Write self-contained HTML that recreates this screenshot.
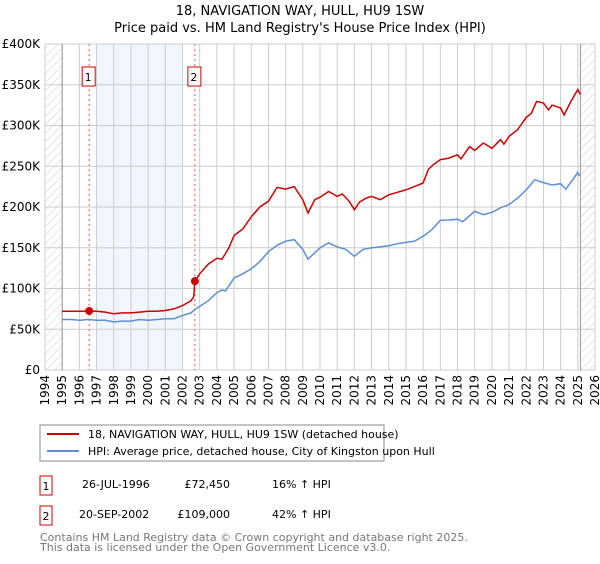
<!DOCTYPE html>
<html><head><meta charset="utf-8">
<style>
body{margin:0;background:#fff;font-family:"DejaVu Sans","Liberation Sans",sans-serif;}
svg text{font-family:"DejaVu Sans","Liberation Sans",sans-serif;}
</style></head>
<body>
<svg id="chart" width="600" height="560" xmlns="http://www.w3.org/2000/svg">
<defs>
<pattern id="hatch" width="6" height="6" patternUnits="userSpaceOnUse" patternTransform="rotate(45)">
<line x1="0" y1="0" x2="0" y2="6" stroke="#ccc" stroke-width="1"/>
</pattern>
</defs>
<text x="300" y="15" text-anchor="middle" font-size="13">18, NAVIGATION WAY, HULL, HU9 1SW</text>
<text x="300" y="32" text-anchor="middle" font-size="13">Price paid vs. HM Land Registry's House Price Index (HPI)</text>
<g id="grid"></g>
<g id="marks"></g>
<g id="axes"></g>

<rect x="40" y="425" width="344" height="36" fill="none" stroke="#888"/>
<line x1="47" y1="434" x2="79" y2="434" stroke="#cc0000" stroke-width="2"/>
<text x="88" y="438" font-size="11">18, NAVIGATION WAY, HULL, HU9 1SW (detached house)</text>
<line x1="47" y1="451" x2="79" y2="451" stroke="#5b8fd4" stroke-width="2"/>
<text x="88" y="455" font-size="11">HPI: Average price, detached house, City of Kingston upon Hull</text>

<g>
<rect x="40" y="476" width="12" height="19" fill="#fff" stroke="#cc0000"/>
<text x="46" y="490" font-size="11" text-anchor="middle">1</text>
<text x="82" y="488" font-size="11">26-JUL-1996</text>
<text x="230" y="488" font-size="11" text-anchor="end">£72,450</text>
<text x="272" y="488" font-size="11">16% ↑ HPI</text>
</g>
<g>
<rect x="40" y="506" width="12" height="19" fill="#fff" stroke="#cc0000"/>
<text x="46" y="520" font-size="11" text-anchor="middle">2</text>
<text x="79" y="518" font-size="11">20-SEP-2002</text>
<text x="230" y="518" font-size="11" text-anchor="end">£109,000</text>
<text x="272" y="518" font-size="11">42% ↑ HPI</text>
</g>
<text x="40" y="541" font-size="11" fill="#777">Contains HM Land Registry data © Crown copyright and database right 2025.</text>
<text x="40" y="551" font-size="11" fill="#777">This data is licensed under the Open Government Licence v3.0.</text>
</svg>
<script>
const yTicks=[0,50,100,150,200,250,300,350,400];
const yTickLabels=["£0","£50K","£100K","£150K","£200K","£250K","£300K","£350K","£400K"];
const xYears=[1994,1995,1996,1997,1998,1999,2000,2001,2002,2003,2004,2005,2006,2007,2008,2009,2010,2011,2012,2013,2014,2015,2016,2017,2018,2019,2020,2021,2022,2023,2024,2025,2026];
const hpiT=[1995,1995.5,1996,1996.5,1997,1997.5,1998,1998.5,1999,1999.5,2000,2000.5,2001,2001.5,2002,2002.5,2002.7,2003,2003.5,2004,2004.3,2004.5,2005,2005.5,2006,2006.5,2007,2007.5,2008,2008.5,2009,2009.3,2010,2010.5,2011,2011.5,2012,2012.5,2013,2013.5,2014,2014.5,2015,2015.5,2016,2016.5,2017,2017.5,2018,2018.3,2019,2019.5,2020,2020.5,2021,2021.5,2022,2022.5,2023,2023.5,2024,2024.3,2024.7,2025,2025.1];
const hpiV=[62,62,61,62,61,61,59,60,60,62,61,62,63,63,67,70,74,78,85,95,98,97,113,118,124,133,145,153,158,160,148,136,150,156,151,148,139.5,148,150,151,152.5,155,156.6,158,164,172,183.6,184,185,182,194.7,190.6,193.5,199,203,211,221,233.5,230,227,228.6,222,233.5,242.5,238];
const priceT=[1995,1995.5,1996,1996.57,1997,1997.5,1998,1998.5,1999,1999.5,2000,2000.5,2001,2001.5,2002,2002.5,2002.65,2002.72,2003,2003.5,2004,2004.3,2004.7,2005,2005.5,2006,2006.5,2007,2007.5,2008,2008.5,2009,2009.3,2009.7,2010,2010.5,2011,2011.3,2011.7,2012,2012.3,2012.7,2013,2013.5,2014,2014.5,2015,2015.5,2016,2016.3,2016.6,2017,2017.5,2018,2018.2,2018.7,2019,2019.5,2020,2020.5,2020.7,2021,2021.5,2022,2022.3,2022.6,2023,2023.3,2023.5,2024,2024.2,2024.6,2025,2025.15];
const priceV=[72,72,72,72.45,72,71,69,70,70,71,72,72,73,75,79,85,90,109,118,130,137,136,150,165,173,188,200,207,224,222,225,209,192.6,209,212,219,213,216,207,196.7,206,211,213,209,215,218,221,225,229.4,246,252,258,260,264,259,274,269.5,278.5,272,282.6,277,286.7,295,310,315,329.6,327.6,319,325,321.5,313,329.6,344,338];
const saleT=[1996.57,2002.72];
const saleV=[72.45,109];

const X0=45,X1=595,Y0=370,Y1=44;
const xs=t=>X0+(t-1994)*(X1-X0)/32;
const ys=v=>Y0-v*(Y0-Y1)/400;
const NS="http://www.w3.org/2000/svg";
function mk(tag,attrs,parent){const e=document.createElementNS(NS,tag);for(const k in attrs)e.setAttribute(k,attrs[k]);parent.appendChild(e);return e;}
const grid=document.getElementById('grid'),marks=document.getElementById('marks'),axes=document.getElementById('axes');

mk('rect',{x:X0,y:Y1,width:X1-X0,height:Y0-Y1,fill:'#fff'},grid);
const band=mk('rect',{x:xs(1997),y:Y1,width:xs(2002)-xs(1997),height:Y0-Y1,fill:'#eef3fc',opacity:0.8},grid);


xYears.forEach(y=>{mk('line',{x1:xs(y),y1:Y1,x2:xs(y),y2:Y0,stroke:'#ccc','stroke-width':1},grid);});
yTicks.forEach(v=>{mk('line',{x1:X0,y1:ys(v),x2:X1,y2:ys(v),stroke:'#ccc','stroke-width':1},grid);});
const h1=mk('rect',{x:X0,y:Y1,width:xs(1995)-X0,height:Y0-Y1,fill:'url(#hatch)'},grid);


const h2=mk('rect',{x:xs(2025.15),y:Y1,width:X1-xs(2025.15),height:Y0-Y1,fill:'url(#hatch)'},grid);


mk('line',{x1:xs(1995),y1:Y1,x2:xs(1995),y2:Y0,stroke:'#999'},grid);
mk('line',{x1:xs(2025.15),y1:Y1,x2:xs(2025.15),y2:Y0,stroke:'#999'},grid);

saleT.forEach((t,i)=>{
  const l=mk('line',{x1:xs(t),y1:Y1,x2:xs(t),y2:Y0,stroke:'#ee5555','stroke-width':1,'stroke-dasharray':'2,3'},marks);
  
  
});

function path(T,V){return T.map((t,i)=>(i?'L':'M')+xs(t).toFixed(1)+','+ys(V[i]).toFixed(1)).join(' ');}
const hp=mk('path',{d:path(hpiT,hpiV),fill:'none',stroke:'#5b8fd4','stroke-width':1.5},marks);


const pp=mk('path',{d:path(priceT,priceV),fill:'none',stroke:'#cc0000','stroke-width':1.5},marks);


saleT.forEach((t,i)=>{
  const c=mk('circle',{cx:xs(t),cy:ys(saleV[i]),r:4,fill:'#cc0000'},marks);
  
  
  const b=mk('rect',{x:xs(t)-7,y:67,width:13,height:19,fill:'#fff',stroke:'#cc0000'},marks);
  
  
  const tx=mk('text',{x:xs(t)-1,y:81,'font-size':11,'text-anchor':'middle'},marks);
  tx.textContent=String(i+1);
  
  
});

yTicks.forEach((v,i)=>{
  const t=mk('text',{x:X0-5,y:ys(v)+4,'font-size':12,'text-anchor':'end'},axes);
  t.textContent=yTickLabels[i];
  
  
});
xYears.forEach(y=>{
  const t=mk('text',{x:0,y:0,'font-size':12,'text-anchor':'end',transform:'translate('+(xs(y)+4)+','+(Y0+5)+') rotate(-90)'},axes);
  t.textContent=String(y);
  
  
});
</script>
</body></html>
